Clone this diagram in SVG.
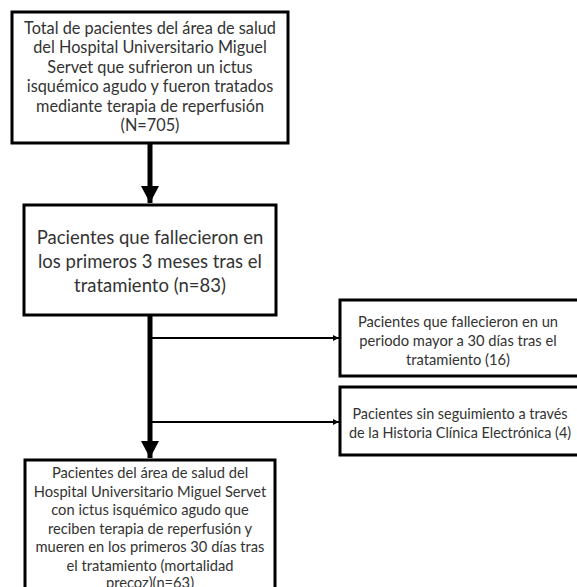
<svg xmlns="http://www.w3.org/2000/svg" width="577" height="587" viewBox="0 0 577 587">
<style>
.box{fill:#fff;stroke:#000;stroke-width:3}
.t{font-family:Lato,"Open Sans","Liberation Sans",sans-serif;fill:#333;text-anchor:middle;dominant-baseline:central}
.s16{font-size:16.3px}
.s19{font-size:18.5px}
.s14{font-size:14.7px}
.s14b{font-size:14.4px}
.thick{stroke:#000;stroke-width:5;fill:none}
.thin{stroke:#000;stroke-width:2;fill:none}
</style>
<defs>
<marker id="big" markerWidth="4" markerHeight="4" refX="3.4" refY="2" orient="auto" markerUnits="strokeWidth" viewBox="0 0 4 4">
<path d="M0,0.2 L3.4,2 L0,3.8 Z" fill="#000"/>
</marker>
<marker id="small" markerWidth="4" markerHeight="4" refX="3" refY="2" orient="auto" markerUnits="strokeWidth" viewBox="0 0 4 4">
<path d="M0,0.5 L3,2 L0,3.5 Z" fill="#000"/>
</marker>
</defs>
<rect width="577" height="587" fill="#fff"/>
<g id="connectors">
<path class="thick" d="M150,144 V203" marker-end="url(#big)"/>
<path class="thick" d="M150,316 V458" marker-end="url(#big)"/>
<path class="thin" d="M152,338 H339" marker-end="url(#small)"/>
<path class="thin" d="M152,422 H339" marker-end="url(#small)"/>
</g>
<g id="n1">
<rect class="box" x="12" y="12" width="276" height="131"/>
<text class="t s16" x="150" y="27">Total de pacientes del área de salud</text>
<text class="t s16" x="150" y="46.5">del Hospital Universitario Miguel</text>
<text class="t s16" x="150" y="66">Servet que sufrieron un ictus</text>
<text class="t s16" x="150" y="85.5">isquémico agudo y fueron tratados</text>
<text class="t s16" x="150" y="105">mediante terapia de reperfusión</text>
<text class="t s16" x="150" y="124.5">(N=705)</text>
</g>
<g id="n2">
<rect class="box" x="24" y="205" width="252" height="110"/>
<text class="t s19" x="150" y="237">Pacientes que fallecieron en</text>
<text class="t s19" x="150" y="261">los primeros 3 meses tras el</text>
<text class="t s19" x="150" y="285">tratamiento (n=83)</text>
</g>
<g id="n3">
<rect class="box" x="340" y="300" width="250" height="76"/>
<text class="t s14" x="458" y="321">Pacientes que fallecieron en un</text>
<text class="t s14" x="458" y="340">periodo mayor a 30 días tras el</text>
<text class="t s14" x="458" y="359">tratamiento (16)</text>
</g>
<g id="n4">
<rect class="box" x="340" y="387" width="250" height="68"/>
<text class="t s14b" x="460" y="413">Pacientes sin seguimiento a través</text>
<text class="t s14b" x="460" y="432">de la Historia Clínica Electrónica (4)</text>
</g>
<g id="n5">
<rect class="box" x="25" y="460" width="250" height="140"/>
<text class="t s14" x="150" y="472">Pacientes del área de salud del</text>
<text class="t s14" x="150" y="490.5">Hospital Universitario Miguel Servet</text>
<text class="t s14" x="150" y="509">con ictus isquémico agudo que</text>
<text class="t s14" x="150" y="527.5">reciben terapia de reperfusión y</text>
<text class="t s14" x="150" y="546">mueren en los primeros 30 días tras</text>
<text class="t s14" x="150" y="564.5">el tratamiento (mortalidad</text>
<text class="t s14" x="150" y="582">precoz)(n=63)</text>
</g>
</svg>
